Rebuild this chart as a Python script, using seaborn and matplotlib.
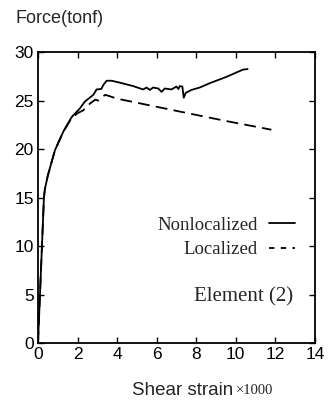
import matplotlib
matplotlib.use("Agg")
import matplotlib.pyplot as plt
import seaborn as sns
import pandas as pd

# Data
nonloc_x = [0, 0.1, 0.2, 0.3, 0.35, 0.5, 0.86, 1.28, 1.7, 2.12, 2.37, 2.8, 2.96,
            3.2, 3.3, 3.47, 3.72, 4.14, 4.81, 5.32, 5.49, 5.66, 5.82, 6.08, 6.25,
            6.41, 6.75, 7.0, 7.1, 7.17, 7.3, 7.37, 7.47, 7.76, 8.18, 8.69, 9.53,
            10.37, 10.6]
nonloc_y = [0, 5, 10, 15, 15.9, 17.3, 19.9, 21.8, 23.3, 24.2, 24.9, 25.6, 26.15,
            26.2, 26.6, 27.05, 27.05, 26.85, 26.5, 26.15, 26.35, 26.1, 26.35, 26.25, 25.9,
            26.25, 26.15, 26.45, 26.2, 26.5, 26.45, 25.3, 25.8, 26.1, 26.35, 26.8, 27.45,
            28.2, 28.25]

loc_x = [0, 0.1, 0.2, 0.3, 0.35, 0.5, 0.86, 1.28, 1.7, 2.0, 2.29, 2.63, 2.9,
         3.05, 3.2, 3.4, 4.0, 7.34, 9.5, 11.8]
loc_y = [0, 5, 10, 15, 15.9, 17.3, 19.9, 21.8, 23.2, 23.7, 24.0, 24.7, 25.1,
         25.0, 25.3, 25.6, 25.2, 23.8, 22.9, 22.0]

x_ticks = [0, 2, 4, 6, 8, 10, 12, 14]
y_ticks = [0, 5, 10, 15, 20, 25, 30]

df_non = pd.DataFrame({"strain": nonloc_x, "force": nonloc_y})
df_loc = pd.DataFrame({"strain": loc_x, "force": loc_y})

sns.set_style("ticks")
plt.rcParams['font.family'] = ['Liberation Sans', 'DejaVu Sans']

fig = plt.figure(figsize=(3.29, 4.01), dpi=100)
ax = fig.add_axes([0.1155, 0.1446, 0.8415, 0.7254])

sns.lineplot(data=df_non, x="strain", y="force", ax=ax, color="black",
             linewidth=1.3, sort=False, estimator=None, label="Nonlocalized")
sns.lineplot(data=df_loc, x="strain", y="force", ax=ax, color="black",
             linewidth=1.3, sort=False, estimator=None, label="Localized",
             dashes=False)
ax.lines[1].set_dashes((6.5, 3.5))

ax.set_xlim(0, 14)
ax.set_ylim(0, 30)
ax.set_xticks(x_ticks)
ax.set_yticks(y_ticks)
ax.set_xlabel("")
ax.set_ylabel("")
ax.tick_params(direction="in", top=True, right=True, length=4, width=1,
               labelsize=12.5, pad=3, colors="black")
for s in ax.spines.values():
    s.set_visible(True)
    s.set_linewidth(1.3)
    s.set_color("black")

leg = ax.legend(markerfirst=False, frameon=False, loc="upper right",
                bbox_to_anchor=(0.955, 0.46), borderaxespad=0,
                prop={"family": "Liberation Serif", "size": 13.5},
                handlelength=1.4, handletextpad=0.6, labelspacing=0.4)
leg.get_lines()[1].set_dashes((3, 3.5))

ax.text(0.92, 0.158, "Element (2)", transform=ax.transAxes, ha="right",
        va="center", fontsize=15, family="Liberation Serif")

fig.text(0.046, 0.955, "Force(tonf)", ha="left", va="center", fontsize=13)
fig.text(0.400, 0.027, "Shear strain", ha="left", va="center", fontsize=13.5)
fig.text(0.718, 0.025, "\u00d71000", ha="left", va="center", fontsize=10.5,
         family="Liberation Serif")

fig.savefig("out.png", dpi=100)
